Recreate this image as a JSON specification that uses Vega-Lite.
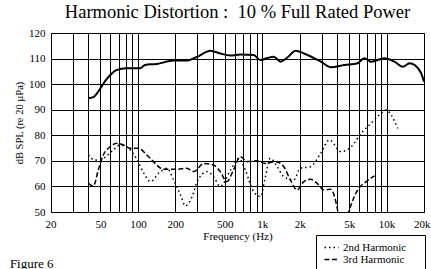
{
  "$schema": "https://vega.github.io/schema/vega-lite/v6.json",
  "autosize": {"type": "none"},
  "padding": {"left": 51, "top": 33, "right": 7, "bottom": 57},
  "width": 373,
  "height": 179,
  "background": "white",
  "config": {
    "view": {"stroke": "black", "strokeWidth": 1},
    "font": "Liberation Serif"
  },
  "title": {
    "text": "Harmonic Distortion :\u00a0 10 % Full Rated Power",
    "font": "Liberation Serif",
    "fontSize": 18.5,
    "fontWeight": "normal",
    "color": "black",
    "anchor": "middle",
    "offset": 6
  },
  "resolve": {"axis": {"x": "independent", "y": "independent"}},
  "layer": [
    {
      "data": {"name": "curves"},
      "transform": [{"filter": "datum.series === 'Fundamental'"}],
      "mark": {"type": "line", "interpolate": "monotone", "color": "black", "strokeWidth": 2},
      "encoding": {
        "x": {
          "field": "f",
          "type": "quantitative",
          "scale": {"type": "log", "domain": [20, 20000], "nice": false},
          "axis": {
            "values": [20, 30, 40, 50, 60, 70, 80, 90, 100, 200, 300, 400, 500, 600, 700, 800, 900, 1000, 2000, 3000, 4000, 5000, 6000, 7000, 8000, 9000, 10000, 20000],
            "labelExpr": "indexof([20, 50, 100, 200, 500, 1000, 2000, 5000, 10000, 20000], datum.value) >= 0 ? (datum.value >= 1000 ? (datum.value / 1000) + 'k' : '' + datum.value) : ''",
            "grid": true,
            "gridColor": "black",
            "gridOpacity": 1,
            "gridWidth": 1,
            "ticks": false,
            "domain": false,
            "labelFont": "Liberation Serif",
            "labelFontSize": 11,
            "labelColor": "black",
            "labelPadding": 6,
            "labelOverlap": false,
            "labelFlush": true,
            "labelFlushOffset": 6,
            "title": "Frequency (Hz)",
            "titleFont": "Liberation Serif",
            "titleFontSize": 11,
            "titleFontWeight": "normal",
            "titleColor": "black",
            "titlePadding": 1
          }
        },
        "y": {
          "field": "db",
          "type": "quantitative",
          "scale": {"domain": [50, 120], "nice": false, "zero": false},
          "axis": {
            "values": [50, 60, 70, 80, 90, 100, 110, 120],
            "grid": true,
            "gridColor": "black",
            "gridOpacity": 1,
            "gridWidth": 1,
            "ticks": false,
            "domain": false,
            "labelFont": "Liberation Serif",
            "labelFontSize": 11,
            "labelColor": "black",
            "labelPadding": 6,
            "labelOverlap": false,
            "title": "dB SPL (re 20 µPa)",
            "titleFont": "Liberation Serif",
            "titleFontSize": 10.5,
            "titleFontWeight": "normal",
            "titleColor": "black",
            "titlePadding": 4
          }
        }
      }
    },
    {
      "data": {"name": "curves"},
      "transform": [{"filter": "datum.series !== 'Fundamental'"}],
      "mark": {"type": "line", "interpolate": "monotone", "color": "black", "strokeWidth": 1.5, "clip": true},
      "encoding": {
        "x": {"field": "f", "type": "quantitative", "axis": null},
        "y": {"field": "db", "type": "quantitative", "axis": null},
        "strokeDash": {
          "field": "series",
          "type": "nominal",
          "scale": {"domain": ["2nd Harmonic", "3rd Harmonic"], "range": [[1.5, 3], [5, 2.5]]},
          "legend": {
            "orient": "none",
            "legendX": 265,
            "legendY": 202,
            "title": null,
            "strokeColor": "black",
            "fillColor": "white",
            "padding": 7,
            "symbolType": "M-1.75,0H1.75",
            "symbolSize": 64,
            "symbolOffset": 3,
            "symbolStrokeWidth": 1.5,
            "symbolStrokeColor": "black",
            "labelFont": "Liberation Serif",
            "labelFontSize": 11,
            "labelColor": "black",
            "labelOffset": 6,
            "labelExpr": "datum.label + '\u00a0\u00a0\u00a0\u00a0\u200b'",
            "rowPadding": 0
          }
        }
      }
    },
    {
      "data": {"values": [{"caption": "Figure 6"}]},
      "mark": {"type": "text", "font": "Liberation Serif", "fontSize": 13, "align": "left", "baseline": "alphabetic", "color": "black", "clip": false},
      "encoding": {
        "text": {"field": "caption", "type": "nominal"},
        "x": {"datum": 9.34, "type": "quantitative", "axis": null},
        "y": {"datum": 28.0, "type": "quantitative", "axis": null}
      }
    }
  ],
  "datasets": {
    "curves": [
      {"f": 40, "db": 94.5, "series": "Fundamental"},
      {"f": 43.9, "db": 94.9, "series": "Fundamental"},
      {"f": 47, "db": 96.5, "series": "Fundamental"},
      {"f": 50, "db": 98.4, "series": "Fundamental"},
      {"f": 55, "db": 101.5, "series": "Fundamental"},
      {"f": 60, "db": 103.6, "series": "Fundamental"},
      {"f": 67, "db": 105.5, "series": "Fundamental"},
      {"f": 81, "db": 106.2, "series": "Fundamental"},
      {"f": 104, "db": 106.2, "series": "Fundamental"},
      {"f": 114, "db": 107.5, "series": "Fundamental"},
      {"f": 142, "db": 107.9, "series": "Fundamental"},
      {"f": 194, "db": 109.2, "series": "Fundamental"},
      {"f": 247, "db": 109.2, "series": "Fundamental"},
      {"f": 300, "db": 110.7, "series": "Fundamental"},
      {"f": 383, "db": 113.1, "series": "Fundamental"},
      {"f": 460, "db": 112, "series": "Fundamental"},
      {"f": 556, "db": 111.2, "series": "Fundamental"},
      {"f": 667, "db": 111.6, "series": "Fundamental"},
      {"f": 855, "db": 111.4, "series": "Fundamental"},
      {"f": 966, "db": 109.4, "series": "Fundamental"},
      {"f": 1100, "db": 110.2, "series": "Fundamental"},
      {"f": 1236, "db": 110.7, "series": "Fundamental"},
      {"f": 1407, "db": 108.8, "series": "Fundamental"},
      {"f": 1600, "db": 110.5, "series": "Fundamental"},
      {"f": 1858, "db": 113.1, "series": "Fundamental"},
      {"f": 2163, "db": 112, "series": "Fundamental"},
      {"f": 2958, "db": 108.8, "series": "Fundamental"},
      {"f": 3565, "db": 106.6, "series": "Fundamental"},
      {"f": 4565, "db": 107.5, "series": "Fundamental"},
      {"f": 5850, "db": 108.2, "series": "Fundamental"},
      {"f": 6620, "db": 110.1, "series": "Fundamental"},
      {"f": 7500, "db": 108.8, "series": "Fundamental"},
      {"f": 9600, "db": 110.1, "series": "Fundamental"},
      {"f": 11570, "db": 108.8, "series": "Fundamental"},
      {"f": 13530, "db": 106.8, "series": "Fundamental"},
      {"f": 15300, "db": 108.2, "series": "Fundamental"},
      {"f": 16800, "db": 107.5, "series": "Fundamental"},
      {"f": 19000, "db": 104.2, "series": "Fundamental"},
      {"f": 20000, "db": 101, "series": "Fundamental"},
      {"f": 40, "db": 72.3, "series": "2nd Harmonic"},
      {"f": 45, "db": 70.3, "series": "2nd Harmonic"},
      {"f": 52.7, "db": 71, "series": "2nd Harmonic"},
      {"f": 63.5, "db": 74.3, "series": "2nd Harmonic"},
      {"f": 72, "db": 76.2, "series": "2nd Harmonic"},
      {"f": 86.7, "db": 74.3, "series": "2nd Harmonic"},
      {"f": 98.8, "db": 70.3, "series": "2nd Harmonic"},
      {"f": 111.5, "db": 65.2, "series": "2nd Harmonic"},
      {"f": 126.6, "db": 61.9, "series": "2nd Harmonic"},
      {"f": 147, "db": 65.2, "series": "2nd Harmonic"},
      {"f": 171, "db": 67.1, "series": "2nd Harmonic"},
      {"f": 194, "db": 62.5, "series": "2nd Harmonic"},
      {"f": 220, "db": 56.7, "series": "2nd Harmonic"},
      {"f": 241, "db": 52.4, "series": "2nd Harmonic"},
      {"f": 273, "db": 56, "series": "2nd Harmonic"},
      {"f": 300, "db": 61.9, "series": "2nd Harmonic"},
      {"f": 360, "db": 65.8, "series": "2nd Harmonic"},
      {"f": 406, "db": 63.8, "series": "2nd Harmonic"},
      {"f": 460, "db": 60, "series": "2nd Harmonic"},
      {"f": 556, "db": 66.4, "series": "2nd Harmonic"},
      {"f": 647, "db": 71, "series": "2nd Harmonic"},
      {"f": 732, "db": 66.4, "series": "2nd Harmonic"},
      {"f": 830, "db": 59, "series": "2nd Harmonic"},
      {"f": 966, "db": 56, "series": "2nd Harmonic"},
      {"f": 1060, "db": 63.8, "series": "2nd Harmonic"},
      {"f": 1160, "db": 71, "series": "2nd Harmonic"},
      {"f": 1320, "db": 67.7, "series": "2nd Harmonic"},
      {"f": 1490, "db": 63.8, "series": "2nd Harmonic"},
      {"f": 1790, "db": 62.5, "series": "2nd Harmonic"},
      {"f": 2025, "db": 67.1, "series": "2nd Harmonic"},
      {"f": 2440, "db": 67.7, "series": "2nd Harmonic"},
      {"f": 2958, "db": 73, "series": "2nd Harmonic"},
      {"f": 3460, "db": 78.2, "series": "2nd Harmonic"},
      {"f": 4310, "db": 73.6, "series": "2nd Harmonic"},
      {"f": 5190, "db": 75.5, "series": "2nd Harmonic"},
      {"f": 6250, "db": 80.8, "series": "2nd Harmonic"},
      {"f": 7500, "db": 84.7, "series": "2nd Harmonic"},
      {"f": 9060, "db": 88.6, "series": "2nd Harmonic"},
      {"f": 9900, "db": 89.9, "series": "2nd Harmonic"},
      {"f": 10900, "db": 87.9, "series": "2nd Harmonic"},
      {"f": 12300, "db": 82.7, "series": "2nd Harmonic"},
      {"f": 40, "db": 61.2, "series": "3rd Harmonic"},
      {"f": 43.9, "db": 60.2, "series": "3rd Harmonic"},
      {"f": 48, "db": 66.4, "series": "3rd Harmonic"},
      {"f": 52.7, "db": 72.3, "series": "3rd Harmonic"},
      {"f": 59.8, "db": 75.5, "series": "3rd Harmonic"},
      {"f": 68, "db": 76.9, "series": "3rd Harmonic"},
      {"f": 76.6, "db": 76.2, "series": "3rd Harmonic"},
      {"f": 86.7, "db": 74.9, "series": "3rd Harmonic"},
      {"f": 101, "db": 74.9, "series": "3rd Harmonic"},
      {"f": 118, "db": 72.3, "series": "3rd Harmonic"},
      {"f": 133, "db": 69.7, "series": "3rd Harmonic"},
      {"f": 161, "db": 66.7, "series": "3rd Harmonic"},
      {"f": 206, "db": 66.7, "series": "3rd Harmonic"},
      {"f": 247, "db": 67.1, "series": "3rd Harmonic"},
      {"f": 282, "db": 65.8, "series": "3rd Harmonic"},
      {"f": 338, "db": 69, "series": "3rd Harmonic"},
      {"f": 406, "db": 68.4, "series": "3rd Harmonic"},
      {"f": 459, "db": 65.8, "series": "3rd Harmonic"},
      {"f": 520, "db": 61.9, "series": "3rd Harmonic"},
      {"f": 587, "db": 66.4, "series": "3rd Harmonic"},
      {"f": 667, "db": 71.6, "series": "3rd Harmonic"},
      {"f": 757, "db": 69.7, "series": "3rd Harmonic"},
      {"f": 910, "db": 70, "series": "3rd Harmonic"},
      {"f": 1060, "db": 69, "series": "3rd Harmonic"},
      {"f": 1278, "db": 69.7, "series": "3rd Harmonic"},
      {"f": 1490, "db": 67.7, "series": "3rd Harmonic"},
      {"f": 1685, "db": 62.5, "series": "3rd Harmonic"},
      {"f": 1905, "db": 58.6, "series": "3rd Harmonic"},
      {"f": 2160, "db": 61.9, "series": "3rd Harmonic"},
      {"f": 2440, "db": 62.8, "series": "3rd Harmonic"},
      {"f": 2765, "db": 61.2, "series": "3rd Harmonic"},
      {"f": 3130, "db": 58.6, "series": "3rd Harmonic"},
      {"f": 3540, "db": 58.9, "series": "3rd Harmonic"},
      {"f": 3880, "db": 54.7, "series": "3rd Harmonic"},
      {"f": 4050, "db": 50.5, "series": "3rd Harmonic"},
      {"f": 4450, "db": 42, "series": "3rd Harmonic"},
      {"f": 4990, "db": 50.5, "series": "3rd Harmonic"},
      {"f": 5850, "db": 58.6, "series": "3rd Harmonic"},
      {"f": 6870, "db": 61.9, "series": "3rd Harmonic"},
      {"f": 8000, "db": 64.1, "series": "3rd Harmonic"}
    ]
  }
}
